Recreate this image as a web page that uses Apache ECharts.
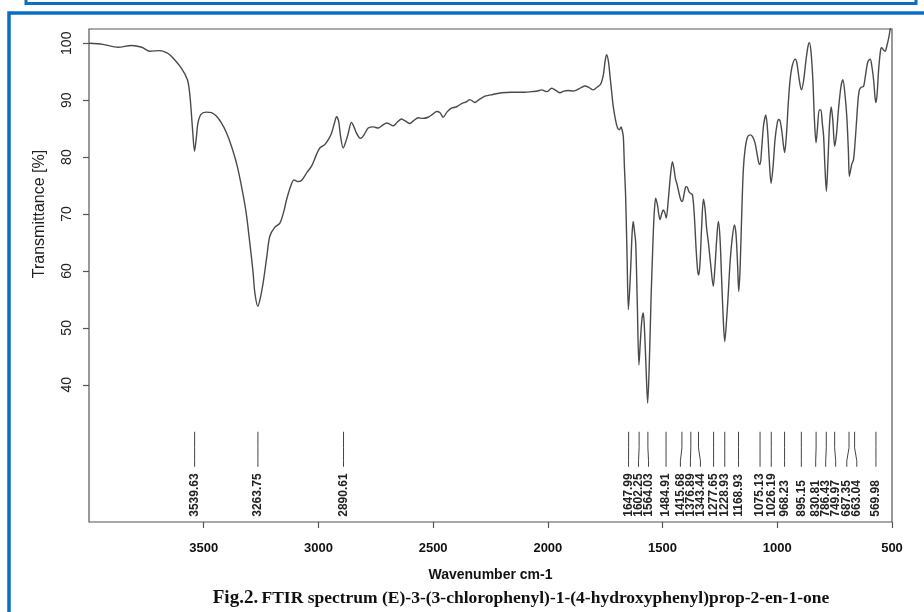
<!DOCTYPE html>
<html>
<head>
<meta charset="utf-8">
<script src="https://cdn.jsdelivr.net/npm/echarts@6/dist/echarts.min.js"></script>
<style>
html,body{margin:0;padding:0;background:#fff;}
#chart{width:924px;height:612px;}
</style>
</head>
<body>
<div id="chart"></div>
<script>
// ---------- data ----------
const wavenumbers = [
4000,3940,3873,3815,3770,3735,3692,3660,3641,3597,3571,3562,3556,3548,3540,3532,3525,3512,3490,3466,
3445,3423,3400,3379,3355,3335,3315,3299,3285,3277,3264,3252,3241,3225,3212,3190,3168,3150,3139,3120,
3106,3090,3074,3050,3030,3010,2994,2972,2955,2943,2930,2921,2912,2903,2892,2880,2870,2856,2845,2834,
2822,2815,2800,2783,2760,2740,2720,2703,2690,2674,2655,2638,2620,2601,2585,2565,2545,2522,2500,2485,
2470,2456,2440,2420,2400,2376,2355,2340,2318,2300,2274,2240,2201,2160,2129,2100,2071,2045,2027,2005,
1983,1965,1947,1930,1911,1890,1874,1855,1838,1820,1802,1785,1770,1758,1750,1744,1736,1729,1722,1715,
1705,1696,1688,1681,1675,1671,1666,1661,1655,1649,1643,1638,1633,1628,1622,1617,1610,1603,1597,1590,
1584,1578,1572,1565,1558,1550,1545,1540,1535,1530,1522,1516,1511,1504,1497,1490,1484,1475,1465,1457,
1450,1444,1438,1428,1420,1414,1405,1398,1392,1386,1380,1370,1362,1354,1347,1342,1336,1330,1322,1315,
1308,1300,1290,1279,1272,1265,1257,1250,1243,1236,1229,1220,1213,1206,1197,1187,1180,1173,1168,1162,
1155,1148,1140,1130,1119,1108,1097,1088,1080,1075,1068,1060,1050,1042,1035,1027,1018,1010,1000,994,
988,980,973,968,960,952,944,935,922,915,905,895,885,875,866,860,853,845,838,831,
825,817,810,804,798,792,786,779,772,765,758,750,742,733,722,714,705,697,690,686,
680,675,668,662,655,648,642,633,624,615,605,595,588,580,574,570,565,558,550,545,
537,530,522,515,508,500
];
const transmittance = [
100.0,99.8,99.3,99.6,99.3,98.6,98.7,98.3,97.7,95.6,93.6,91.5,88.9,84.5,81.0,83.5,86.0,87.5,87.9,87.8,
87.2,86.0,84.2,81.9,78.6,74.8,70.2,64.9,59.8,56.1,53.8,55.5,57.9,62.5,66.1,67.7,68.4,70.6,72.5,75.0,
76.0,75.7,75.9,77.3,78.4,80.3,81.6,82.2,83.2,84.2,86.0,87.1,86.3,83.5,81.6,82.8,84.2,86.1,85.3,84.2,
83.4,83.3,84.0,85.1,85.3,85.1,85.6,86.0,85.8,85.5,86.2,86.7,86.3,85.9,86.4,86.9,86.8,87.0,87.6,88.0,
87.8,87.0,87.9,88.6,88.8,89.4,89.7,90.1,89.6,90.1,90.7,91.0,91.3,91.4,91.4,91.4,91.5,91.6,91.8,91.5,
92.1,91.7,91.3,91.6,91.7,91.6,91.8,92.2,92.5,92.2,91.8,92.3,92.8,94.5,97.0,98.0,96.8,94.2,91.5,88.9,
86.5,85.1,84.8,85.3,84.5,83.6,78.0,73.1,63.0,53.2,57.0,61.4,66.5,68.7,66.8,64.9,54.0,43.5,47.5,51.5,
52.6,49.0,43.0,36.8,43.5,55.5,61.5,67.2,71.0,72.8,71.5,69.8,69.0,70.0,70.7,70.2,69.3,72.5,77.0,79.2,
77.9,76.2,75.4,73.6,72.4,72.2,73.8,74.8,74.7,74.0,73.7,73.4,70.0,64.0,60.0,59.3,62.0,67.5,72.6,71.0,
67.5,64.9,61.0,57.3,60.5,65.0,68.7,66.0,59.0,52.0,47.6,52.0,56.5,61.4,65.5,68.1,66.5,61.0,56.4,60.5,
70.0,77.8,81.5,83.5,83.9,83.6,82.5,80.5,78.9,78.7,81.5,85.5,87.4,84.5,79.5,75.4,78.5,83.0,86.0,86.6,
86.4,84.5,82.0,80.8,84.0,89.5,93.6,96.0,97.2,96.6,93.8,91.8,93.5,97.0,99.5,100.1,98.5,93.6,86.5,82.5,
85.0,88.3,88.3,86.0,83.6,78.0,74.0,79.5,86.0,88.8,86.5,81.9,84.0,88.5,92.5,93.6,91.0,87.1,81.0,76.6,
77.8,78.8,79.5,82.0,86.0,90.0,91.8,92.3,92.4,94.5,96.8,97.2,96.0,93.5,90.5,89.6,91.0,95.5,98.7,99.2,
98.8,98.6,99.6,100.8,102.4,104.0
];
const peakPositions = [3539.63,3263.75,2890.61,1647.99,1602.25,1564.03,1484.91,1415.68,1376.89,1343.44,
  1277.65,1228.93,1168.93,1075.13,1026.19,968.23,895.15,830.81,786.43,749.97,687.35,663.04,569.98];
const peakLabels = ['3539.63','3263.75','2890.61','1647.99','1602.25','1564.03','1484.91','1415.68','1376.89','1343.44',
  '1277.65','1228.93','1168.93','1075.13','1026.19','968.23','895.15','830.81','786.43','749.97','687.35','663.04','569.98'];
const peakLineTop = 31.75;           // transmittance level where the peak marker lines start
const xTicks = [3500,3000,2500,2000,1500,1000,500];
const yTicks = [40,50,60,70,80,90,100];
const xRange = [500, 4000];
const yRange = [15.9, 102.5];
const xTitle = 'Wavenumber cm-1';
const yTitle = 'Transmittance [%]';
const captionHead = 'Fig.2.';
const captionBody = 'FTIR spectrum (E)-3-(3-chlorophenyl)-1-(4-hydroxyphenyl)prop-2-en-1-one';

// ---------- chart ----------
const spectrum = wavenumbers.map((w, i) => [w, transmittance[i]]);
const BLUE = '#0b6fc1';
const AX = '#555';

function spreadLabels(xs, d) {
  const order = xs.map((x, i) => i).sort((a, b) => xs[a] - xs[b]);
  let clusters = order.map(i => ({ ids: [i], center: xs[i] }));
  let changed = true;
  while (changed) {
    changed = false;
    for (let k = 0; k < clusters.length - 1; k++) {
      const a = clusters[k], b = clusters[k + 1];
      const aEnd = a.center + (a.ids.length - 1) * d / 2;
      const bStart = b.center - (b.ids.length - 1) * d / 2;
      if (bStart - aEnd < d) {
        const ids = a.ids.concat(b.ids);
        const c = ids.reduce((s, j) => s + xs[j], 0) / ids.length;
        clusters.splice(k, 2, { ids, center: c });
        changed = true;
        break;
      }
    }
  }
  const out = new Array(xs.length);
  clusters.forEach(c => {
    const start = c.center - (c.ids.length - 1) * d / 2;
    c.ids.forEach((j, n) => { out[j] = start + n * d; });
  });
  return out;
}

const chart = echarts.init(document.getElementById('chart'), null, { renderer: 'canvas' });
const plain = v => String(v);

const option = {
  animation: false,
  backgroundColor: '#fff',
  grid: { left: 89, right: 32, top: 29, bottom: 90, show: true, borderColor: AX, borderWidth: 1.2, backgroundColor: 'transparent' },
  xAxis: {
    type: 'value', min: xRange[0], max: xRange[1], inverse: true,
    splitLine: { show: false },
    axisLine: { show: false },
    axisTick: { show: true, length: 6, customValues: xTicks, lineStyle: { color: AX, width: 1.2 } },
    axisLabel: { customValues: xTicks, formatter: plain, margin: 20, fontSize: 13, fontWeight: 'bold', color: '#111', fontFamily: 'Liberation Sans, Arial, sans-serif' },
    name: xTitle, nameLocation: 'middle', nameGap: 46,
    nameTextStyle: { fontSize: 14, fontWeight: 'bold', color: '#111', fontFamily: 'Liberation Sans, Arial, sans-serif' }
  },
  yAxis: {
    type: 'value', min: yRange[0], max: yRange[1],
    splitLine: { show: false },
    axisLine: { show: false },
    axisTick: { show: true, length: 6, customValues: yTicks, lineStyle: { color: AX, width: 1.2 } },
    axisLabel: { customValues: yTicks, formatter: plain, rotate: 90, margin: 15, fontSize: 14, color: '#222', fontFamily: 'Liberation Sans, Arial, sans-serif' }
  },
  series: [
    {
      type: 'line', data: spectrum, showSymbol: false, smooth: 0.3,
      lineStyle: { color: '#4a4a4a', width: 1.4 }, clip: true, z: 3
    },
    {
      type: 'custom', clip: false, z: 4,
      data: peakPositions.map((p, i) => [p, peakLineTop, i]),
      renderItem: function (params, api) {
        const idx = api.value(2);
        const xs = peakPositions.map(p => api.coord([p, peakLineTop])[0]);
        const lx = spreadLabels(xs, 10);
        const pt = api.coord([api.value(0), api.value(1)]);
        const x = pt[0], top = pt[1];
        const L = lx[idx];
        return {
          type: 'group',
          children: [
            { type: 'polyline', shape: { points: [[x, top], [x, top + 16], [L, top + 29], [L, top + 35]] },
              style: { stroke: '#444', lineWidth: 1, fill: null } },
            { type: 'text', x: L, y: top + 85, rotation: Math.PI / 2,
              style: { text: peakLabels[idx], textAlign: 'left', textVerticalAlign: 'middle',
                       font: 'bold 12px "Liberation Sans", Arial, sans-serif', fill: '#222' } }
          ]
        };
      }
    }
  ],
  graphic: []
};
chart.setOption(option);

const yMid = chart.convertToPixel({ yAxisIndex: 0 }, (yTicks[0] + yTicks[yTicks.length - 1]) / 2);
chart.setOption({
  graphic: [
    { type: 'rect', shape: { x: 26, y: -10, width: 890, height: 13.5 }, style: { fill: '#fff', stroke: BLUE, lineWidth: 3 }, z: 10 },
    { type: 'rect', shape: { x: 9, y: 13, width: 960, height: 700 }, style: { fill: null, stroke: BLUE, lineWidth: 3.5 }, z: 10 },
    { type: 'text', x: 40, y: yMid, rotation: Math.PI / 2,
      style: { text: yTitle, textAlign: 'center', textVerticalAlign: 'middle', font: '16px "Liberation Sans", Arial, sans-serif', fill: '#222' } },
    { type: 'text', x: 521, y: 598,
      style: { text: '{a|' + captionHead + '} {b|' + captionBody + '}', textAlign: 'center', textVerticalAlign: 'middle',
        rich: {
          a: { fontFamily: 'Liberation Serif, Times New Roman, serif', fontWeight: 'bold', fontSize: 19, fill: '#111' },
          b: { fontFamily: 'Liberation Serif, Times New Roman, serif', fontWeight: 'bold', fontSize: 17.5, fill: '#111' }
        } } }
  ]
});
</script>
</body>
</html>
